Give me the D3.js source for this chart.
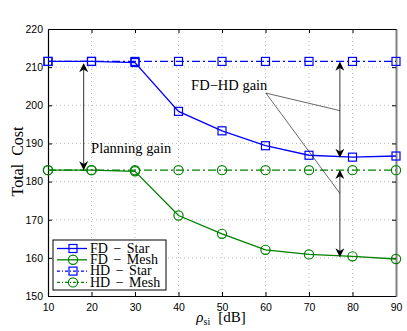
<!DOCTYPE html>
<html>
<head>
<meta charset="utf-8">
<script src="https://cdn.jsdelivr.net/npm/d3@7"></script>
<style>
body { margin: 0; background: #fff; }
</style>
</head>
<body>
<svg id="chart" width="407" height="331"></svg>
<script>
// data
var rho = [10, 20, 30, 40, 50, 60, 70, 80, 90];
var fdStar = [211.5, 211.5, 211.2, 198.4, 193.3, 189.4, 186.9, 186.4, 186.7];
var fdMesh = [183.0, 183.0, 182.7, 171.1, 166.3, 162.1, 160.9, 160.4, 159.7];
var hdStar = [211.5, 211.5, 211.5, 211.5, 211.5, 211.5, 211.5, 211.5, 211.5];
var hdMesh = [183.0, 183.0, 183.0, 183.0, 183.0, 183.0, 183.0, 183.0, 183.0];
var xTicks = [10, 20, 30, 40, 50, 60, 70, 80, 90];
var yTicks = [150, 160, 170, 180, 190, 200, 210, 220];

var series = [
  {name: "FD \u2212 Star", values: fdStar, colour: "#0000ff", dash: null, marker: "square"},
  {name: "FD \u2212 Mesh", values: fdMesh, colour: "#008000", dash: null, marker: "circle"},
  {name: "HD \u2212 Star", values: hdStar, colour: "#0000ff", dash: "8,3,2,3", marker: "square"},
  {name: "HD \u2212 Mesh", values: hdMesh, colour: "#008000", dash: "8,3,2,3", marker: "circle"}
];

var svg = d3.select("#chart");
var pLeft = 48, pRight = 396, pTop = 29, pBottom = 296;

var x = d3.scaleLinear().domain([10, 90]).range([pLeft, pRight]);
var y = d3.scaleLinear().domain([150, 220]).range([pBottom, pTop]);

var sans = "'Liberation Sans', Arial, sans-serif";
var serif = "'Liberation Serif', 'Times New Roman', serif";

//Grid
svg.append("g").selectAll("line")
  .data(xTicks.slice(1, -1)).enter().append("line")
  .attr("x1", function(d) { return x(d); }).attr("x2", function(d) { return x(d); })
  .attr("y1", pTop).attr("y2", pBottom)
  .attr("stroke", "#aaa").attr("stroke-width", 0.8).attr("stroke-dasharray", "1,3");
svg.append("g").selectAll("line")
  .data(yTicks.slice(1, -1)).enter().append("line")
  .attr("y1", function(d) { return y(d); }).attr("y2", function(d) { return y(d); })
  .attr("x1", pLeft).attr("x2", pRight)
  .attr("stroke", "#aaa").attr("stroke-width", 0.8).attr("stroke-dasharray", "1,3");

//Axes
svg.append("g").attr("transform", "translate(0," + pBottom + ")")
  .call(d3.axisBottom(x).tickValues(xTicks).tickSizeInner(-4).tickSizeOuter(0).tickPadding(8));
svg.append("g").attr("transform", "translate(" + pLeft + ",0)")
  .call(d3.axisLeft(y).tickValues(yTicks).tickSizeInner(-4).tickSizeOuter(0).tickPadding(5));
svg.append("g").attr("transform", "translate(0," + pTop + ")")
  .call(d3.axisTop(x).tickValues(xTicks).tickSizeInner(-4).tickSizeOuter(0).tickFormat(""));
svg.append("g").attr("class", "rightAxis").attr("transform", "translate(" + pRight + ",0)")
  .call(d3.axisRight(y).tickValues(yTicks).tickSizeInner(-4).tickSizeOuter(0).tickFormat(""));
svg.selectAll(".domain").attr("stroke", "#000").attr("stroke-width", 1.2);
svg.select(".rightAxis .domain").attr("stroke", "#808080").attr("stroke-width", 2);
svg.selectAll(".tick line").attr("stroke", "#000");
svg.selectAll(".tick text").style("font-family", sans).style("font-size", "10.5px").attr("fill", "#000");

//Lines and markers
var line = d3.line()
  .x(function(d, i) { return x(rho[i]); })
  .y(function(d) { return y(d); });

series.slice().reverse().forEach(function(s) {
  svg.append("path")
    .datum(s.values)
    .attr("d", line)
    .attr("fill", "none")
    .attr("stroke", s.colour)
    .attr("stroke-width", 1.3)
    .attr("stroke-dasharray", s.dash);
});

function drawMarker(g, kind, cx, cy, colour) {
  if (kind === "square") {
    g.append("rect").attr("x", cx - 4).attr("y", cy - 4).attr("width", 8).attr("height", 8)
      .attr("fill", "none").attr("stroke", colour).attr("stroke-width", 1.2);
  } else {
    g.append("circle").attr("cx", cx).attr("cy", cy).attr("r", 4.6)
      .attr("fill", "none").attr("stroke", colour).attr("stroke-width", 1.2);
  }
}

var marks = svg.append("g");
series.forEach(function(s) {
  s.values.forEach(function(v, i) {
    drawMarker(marks, s.marker, x(rho[i]), y(v), s.colour);
  });
});

//Annotations
var defs = svg.append("defs");
defs.append("marker").attr("id", "head")
  .attr("viewBox", "0 0 10 10").attr("refX", 9).attr("refY", 5)
  .attr("markerWidth", 9).attr("markerHeight", 9).attr("markerUnits", "userSpaceOnUse")
  .attr("orient", "auto-start-reverse")
  .append("path").attr("d", "M0,0 L10,5 L0,10 L3,5 Z").attr("fill", "#000");

function dblArrow(xv, y1, y2) {
  svg.append("line")
    .attr("x1", x(xv)).attr("x2", x(xv))
    .attr("y1", y(y1)).attr("y2", y(y2))
    .attr("stroke", "#000").attr("stroke-width", 0.8)
    .attr("marker-start", "url(#head)").attr("marker-end", "url(#head)");
}
dblArrow(18.2, 210.8, 183.2);
dblArrow(77.1, 211.2, 186.5);
dblArrow(77.1, 182.8, 160.4);

svg.append("text")
  .attr("x", x(19.9)).attr("y", y(187.4))
  .style("font-family", serif).style("font-size", "14.5px")
  .text("Planning gain");

svg.append("text")
  .attr("x", x(42.9)).attr("y", y(204))
  .style("font-family", serif).style("font-size", "14.5px")
  .text("FD\u2212HD gain");

var pivot = [x(60.1), y(203.2)];
[[77.1, 198.6], [77.1, 176.9]].forEach(function(p) {
  svg.append("line")
    .attr("x1", pivot[0]).attr("y1", pivot[1])
    .attr("x2", x(p[0])).attr("y2", y(p[1]))
    .attr("stroke", "#000").attr("stroke-width", 0.6);
});

//Axes labels
svg.append("text")
  .attr("transform", "translate(23,161.5) rotate(-90)")
  .attr("text-anchor", "middle")
  .style("font-family", serif).style("font-size", "16px")
  .style("white-space", "pre")
  .text("Total  Cost");

var xl = svg.append("text")
  .attr("x", 221).attr("y", 322)
  .attr("text-anchor", "middle")
  .style("font-family", serif).style("font-size", "15px");
xl.append("tspan").style("font-style", "italic").text("\u03c1");
xl.append("tspan").attr("dy", 3).style("font-size", "10px").text("si");
xl.append("tspan").attr("dy", -3).attr("dx", 8).text("[dB]");

//Legend
var lg = svg.append("g");
lg.append("rect").attr("x", 53).attr("y", 240).attr("width", 113).attr("height", 50)
  .attr("fill", "#fff").attr("stroke", "#000").attr("stroke-width", 1);
series.forEach(function(s, i) {
  var ly = 248.5 + i * 11.3;
  lg.append("line").attr("x1", 57).attr("x2", 87).attr("y1", ly).attr("y2", ly)
    .attr("stroke", s.colour).attr("stroke-width", 1.3)
    .attr("stroke-dasharray", s.dash ? "3,2,1,2" : null);
  drawMarker(lg, s.marker, 73, ly, s.colour);
  lg.append("text").attr("x", 90).attr("y", ly + 4.3)
    .style("font-family", serif).style("font-size", "14px")
    .style("word-spacing", "2px")
    .text(s.name);
});
</script>
</body>
</html>
